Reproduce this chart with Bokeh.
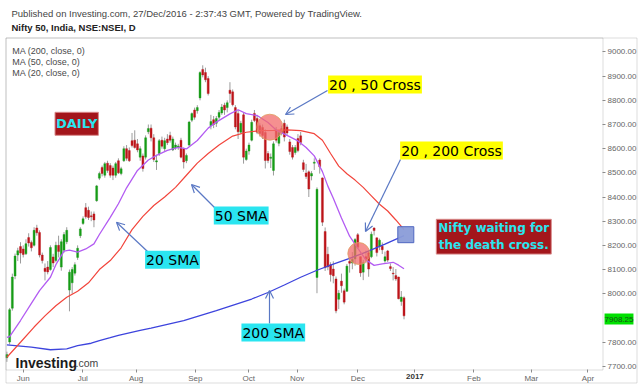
from bokeh.plotting import figure
from bokeh.models import (Range1d, FixedTicker, NumeralTickFormatter, Label, LinearAxis,
                          Arrow, OpenHead, BoxAnnotation)
from bokeh.embed import file_html
from bokeh.resources import INLINE

# ---------------- data (Nifty 50 daily, 24 May 2016 .. 26 Dec 2016) ----------------
trading_days = {
    "2016-05": [24, 25, 26, 27, 30, 31],
    "2016-06": [1, 2, 3, 6, 7, 8, 9, 10, 13, 14, 15, 16, 17, 20, 21, 22, 23, 24, 27, 28, 29, 30],
    "2016-07": [1, 4, 5, 7, 8, 11, 12, 13, 14, 15, 18, 19, 20, 21, 22, 25, 26, 27, 28, 29],
    "2016-08": [1, 2, 3, 4, 5, 8, 9, 10, 11, 12, 16, 17, 18, 19, 22, 23, 24, 25, 26, 29, 30, 31],
    "2016-09": [1, 2, 6, 7, 8, 9, 12, 14, 15, 16, 19, 20, 21, 22, 23, 26, 27, 28, 29, 30],
    "2016-10": [3, 4, 5, 6, 7, 10, 13, 14, 17, 18, 19, 20, 21, 24, 25, 26, 27, 28],
    "2016-11": [1, 2, 3, 4, 7, 8, 9, 10, 11, 15, 16, 17, 18, 21, 22, 23, 24, 25, 28, 29, 30],
    "2016-12": [1, 2, 5, 6, 7, 8, 9, 12, 13, 14, 15, 16, 19, 20, 21, 22, 23, 26],
}
dates = [f"{m}-{d:02d}" for m, days in trading_days.items() for d in days]

opens = [7735, 7800, 7940, 8073, 8160, 8195,
         8185, 8165, 8232, 8212, 8200, 8272, 8253, 8160, 8105, 8110, 8100, 8152, 8137, 8200, 8110, 8180, 8215, 8015, 8045, 8085, 8150, 8240,
         8290, 8356, 8345, 8322, 8330, 8385, 8478, 8522, 8490, 8540, 8530, 8520, 8490, 8550, 8497, 8550, 8600, 8592, 8633, 8635,
         8620, 8565, 8570, 8565, 8670, 8685, 8645, 8545, 8580, 8635, 8600, 8640, 8655, 8595, 8603, 8606, 8635, 8600, 8550, 8615, 8718, 8760,
         8757, 8810, 8928, 8915, 8890, 8695, 8720, 8705, 8730, 8748, 8780, 8770, 8842, 8835, 8770, 8745, 8668, 8740, 8555, 8590,
         8635, 8746, 8725, 8695, 8688, 8667, 8580, 8560, 8510, 8675, 8622, 8683, 8705, 8690, 8628, 8605, 8584, 8642,
         8653, 8542, 8499, 8504, 8487, 8540, 8067, 8553, 8479, 8257, 8163, 8120, 8102, 8061, 7977, 8052, 8012, 8010, 8134, 8127, 8144,
         8244, 8153, 8089, 8153, 8169, 8153, 8272, 8231, 8196, 8196, 8135, 8177, 8112, 8085, 8075, 8069, 7968, 7983]
highs = [7760, 7941, 8083, 8166, 8190, 8213,
         8200, 8225, 8250, 8220, 8275, 8285, 8262, 8170, 8125, 8135, 8200, 8165, 8215, 8240, 8225, 8255, 8275, 8100, 8110, 8130, 8200, 8275,
         8320, 8375, 8360, 8340, 8340, 8450, 8505, 8530, 8545, 8550, 8540, 8530, 8545, 8560, 8525, 8610, 8615, 8605, 8665, 8676,
         8640, 8610, 8580, 8655, 8700, 8700, 8660, 8575, 8640, 8650, 8645, 8660, 8670, 8650, 8625, 8620, 8645, 8605, 8580, 8715, 8750, 8770,
         8780, 8920, 8945, 8935, 8900, 8740, 8735, 8735, 8760, 8785, 8790, 8800, 8875, 8845, 8780, 8760, 8715, 8750, 8600, 8625,
         8720, 8760, 8740, 8705, 8700, 8680, 8590, 8580, 8630, 8690, 8675, 8695, 8720, 8700, 8640, 8615, 8615, 8660,
         8669, 8554, 8537, 8510, 8507, 8560, 8440, 8560, 8481, 8274, 8194, 8130, 8134, 8071, 8015, 8083, 8021, 8123, 8151, 8172, 8230,
         8251, 8154, 8140, 8178, 8180, 8257, 8274, 8232, 8228, 8212, 8174, 8181, 8125, 8110, 8102, 8070, 8011, 7989]
lows = [7718, 7790, 7930, 8060, 8135, 8125,
        8150, 8160, 8195, 8175, 8195, 8240, 8150, 8125, 8055, 8080, 8095, 8110, 8130, 8150, 8095, 8170, 8205, 7927, 8000, 8075, 8140, 8230,
        8285, 8310, 8305, 8300, 8275, 8380, 8470, 8485, 8480, 8500, 8480, 8470, 8480, 8495, 8490, 8545, 8550, 8545, 8605, 8600,
        8585, 8550, 8505, 8555, 8660, 8630, 8545, 8512, 8570, 8600, 8590, 8615, 8625, 8590, 8595, 8595, 8560, 8518, 8540, 8610, 8710, 8720,
        8745, 8800, 8895, 8875, 8820, 8680, 8685, 8690, 8720, 8740, 8740, 8750, 8790, 8775, 8680, 8640, 8660, 8538, 8550, 8575,
        8630, 8710, 8660, 8650, 8640, 8518, 8540, 8520, 8489, 8625, 8610, 8655, 8630, 8655, 8575, 8555, 8575, 8585,
        8614, 8504, 8475, 8400, 8469, 8512, 8002, 8497, 8280, 8094, 8097, 8050, 8043, 7919, 7936, 8004, 7956, 8008, 8087, 8101, 8116,
        8185, 8070, 8056, 8126, 8070, 8147, 8241, 8154, 8180, 8164, 8128, 8131, 8094, 8055, 8053, 7977, 7950, 7894]
closes = [7748, 7934, 8069, 8156, 8178, 8168,
          8162, 8207, 8210, 8190, 8262, 8252, 8160, 8137, 8092, 8090, 8191, 8127, 8200, 8175, 8215, 8245, 8262, 8089, 8100, 8120, 8188, 8268,
          8310, 8318, 8315, 8318, 8305, 8446, 8497, 8497, 8538, 8510, 8490, 8490, 8538, 8500, 8517, 8600, 8560, 8550, 8613, 8605,
          8595, 8600, 8518, 8645, 8683, 8645, 8555, 8550, 8633, 8610, 8633, 8625, 8635, 8640, 8615, 8611, 8565, 8545, 8572, 8710, 8745, 8730,
          8770, 8915, 8905, 8885, 8828, 8712, 8700, 8725, 8750, 8772, 8760, 8790, 8828, 8782, 8690, 8670, 8705, 8565, 8590, 8615,
          8709, 8717, 8668, 8663, 8655, 8551, 8551, 8565, 8620, 8635, 8667, 8665, 8648, 8665, 8588, 8565, 8605, 8592,
          8626, 8514, 8485, 8433, 8497, 8544, 8432, 8525, 8296, 8108, 8111, 8079, 8074, 7929, 8002, 8033, 7965, 8114, 8126, 8142, 8224,
          8192, 8086, 8128, 8143, 8102, 8246, 8261, 8170, 8221, 8182, 8153, 8139, 8104, 8082, 8061, 7979, 7986, 7908.25]

# moving averages (bar index -> value)
ma20_idx = [0, 1, 5, 9, 12, 16, 18, 21, 23, 26, 29, 32, 34, 38, 41, 44, 48, 52, 55, 59, 63, 66, 70, 74, 77, 82, 85,
            88, 92, 96, 99, 103, 107, 110, 113, 116, 118, 120, 123, 126, 129, 132, 135, 138, 142, 144, 146]
ma20_val = [7819, 7822, 7889, 7960, 8013, 8068, 8120, 8176, 8180, 8172, 8185, 8206, 8245, 8316, 8372, 8438, 8510, 8553,
            8572, 8593, 8605, 8599, 8634, 8685, 8710, 8744, 8761, 8745, 8737, 8708, 8677, 8655, 8632, 8605, 8570, 8505,
            8445, 8395, 8313, 8238, 8188, 8140, 8117, 8123, 8130, 8118, 8103]
ma50_idx = [0, 5, 10, 14, 18, 22, 26, 30, 34, 38, 42, 46, 50, 54, 58, 62, 66, 70, 74, 78, 83, 88, 93, 98, 103, 108,
            113, 116, 119, 122, 125, 128, 131, 134, 137, 140, 143, 146]
ma50_val = [7737, 7799, 7862, 7908, 7950, 7985, 8010, 8045, 8100, 8137, 8190, 8265, 8320, 8365, 8400, 8440, 8490, 8540,
            8580, 8615, 8652, 8668, 8675, 8676, 8678, 8675, 8662, 8635, 8580, 8528, 8496, 8470, 8440, 8405, 8370, 8342,
            8305, 8265]
ma200_idx = [0, 4, 9, 16, 22, 26, 31, 34, 38, 41, 49, 53, 65, 77, 90, 96, 102, 108, 114, 120, 126, 132, 139, 146]
ma200_val = [7788, 7784, 7779, 7768, 7772, 7785, 7795, 7806, 7818, 7828, 7848, 7858, 7889, 7930, 7978, 8005, 8036,
             8068, 8097, 8122, 8146, 8172, 8205, 8240]

month_ticks = [6, 27.9, 47.5, 69.3, 88.9, 106.7, 129, 171.7, 192.8, 213.6]
month_labels = ["Jun", "Jul", "Aug", "Sep", "Oct", "Nov", "Dec", "Feb", "Mar", "Apr"]
year_tick, year_label = 150, "2017"
price_ticks = [7700, 7800, 8000, 8100, 8200, 8300, 8400, 8500, 8600, 8700, 8800, 8900, 9000]
last_price = 7908.25

# ---------------- layout (pixel geometry of the TradingView pane) ----------------
W, H = 640, 385
X0, DX = 6.4, 2.72          # pixel of bar 0, pixels per bar
Y0, DY = 365.7, 0.2417      # pixel of 7700, pixels per point


def px(x, y):
    """pixel position of an annotation -> data coordinates"""
    return (x - X0) / DX, 7700 + (Y0 - y) / DY


GREEN, RED, WICK = "#169c16", "#bd1419", "#9b9b9b"
PURPLE, MARED, BLUE = "#b35cf2", "#f2453c", "#3d44dd"
ARROW = "#5a78c4"
CYAN, YELLOW, DARKRED = "#2ae5f0", "#ffff00", "#a3161b"
LINE = "#8c8c8c"
FONT = "Liberation Sans"
VFONT = "DejaVu Sans"

idx = list(range(len(dates)))
colors = [GREEN if c >= o else RED for o, c in zip(opens, closes)]
tops = [max(o, c) for o, c in zip(opens, closes)]
bottoms = [min(o, c) for o, c in zip(opens, closes)]

x_lo, y_lo = px(0, H)
x_hi, y_hi = px(W, 0)
p = figure(width=W, height=H, output_backend="svg", toolbar_location=None,
           x_range=Range1d(x_lo, x_hi), y_range=Range1d(y_lo, y_hi),
           y_axis_location="right", min_border=0, min_border_left=0, min_border_right=0,
           min_border_top=0, min_border_bottom=0,
           outline_line_color=None, background_fill_color="white", border_fill_color="white")
p.xgrid.visible = False
p.ygrid.visible = False

pane_right, pane_bottom = px(602, 369)

# price scale
ya = p.yaxis[0]
ya.fixed_location = pane_right
ya.ticker = FixedTicker(ticks=price_ticks)
ya.formatter = NumeralTickFormatter(format="0.00")
ya.major_label_text_font = FONT
ya.major_label_text_font_size = "8px"
ya.major_label_text_color = "#666666"
ya.major_tick_out = 3
ya.major_tick_in = 0
ya.minor_tick_out = 0
ya.minor_tick_in = 0
ya.major_label_standoff = 2
ya.axis_line_color = None
ya.major_tick_line_color = LINE

# time scale
xa = p.xaxis[0]
xa.fixed_location = pane_bottom
xa.ticker = FixedTicker(ticks=month_ticks)
xa.major_label_overrides = {t: l for t, l in zip(month_ticks, month_labels)}
xa2 = LinearAxis(fixed_location=pane_bottom, ticker=FixedTicker(ticks=[year_tick]),
                 major_label_overrides={year_tick: year_label})
p.add_layout(xa2, "below")
for ax, col, style in [(xa, "#666666", "normal"), (xa2, "#333333", "bold")]:
    ax.major_label_text_font = FONT
    ax.major_label_text_font_size = "8px"
    ax.major_label_text_color = col
    ax.major_label_text_font_style = style
    ax.major_tick_out = 3
    ax.major_tick_in = 0
    ax.minor_tick_out = 0
    ax.minor_tick_in = 0
    ax.major_label_standoff = 1
    ax.axis_line_color = None
    ax.major_tick_line_color = LINE

# pane border and outer border
l, t = px(5.5, 37.5)
r, b = px(602.5, 369.5)
r2, b2 = px(636.5, 382.5)
for rr, bb in [(r, b), (r2, b2)]:
    p.add_layout(BoxAnnotation(left=l, right=rr, top=t, bottom=bb, fill_color=None,
                               line_color=LINE, line_width=1))

# candles
p.segment(x0=idx, y0=lows, x1=idx, y1=highs, line_color=WICK, line_width=1)
p.vbar(x=idx, width=0.72, top=tops, bottom=bottoms, fill_color=colors, line_color=colors, line_width=0.4)

# moving averages
p.line(ma200_idx, ma200_val, line_color=BLUE, line_width=1.3)
p.line(ma50_idx, ma50_val, line_color=MARED, line_width=1.2)
p.line(ma20_idx, ma20_val, line_color=PURPLE, line_width=1.3)

# cross markers
for (cx, cy), sz in [((269.3, 126.7), 26), ((358.3, 253.0), 22)]:
    mx, my = px(cx, cy)
    p.scatter([mx], [my], size=sz, fill_color="#f26b6b", fill_alpha=0.75,
              line_color="#e0a060", line_alpha=0.8)
sx_, sy_ = px(405.3, 234.2)
p.scatter([sx_], [sy_], marker="square", size=16, fill_color="#8a9cd8", fill_alpha=0.95,
          line_color="#4f67c0")

# arrows
for a, bpt in [((327, 90), (285, 114)), ((400, 159), (365, 231)), ((214, 207), (191, 184)),
               ((147, 251), (116, 221.7)), ((269, 323), (269, 290))]:
    xs, ys = px(*a)
    xe, ye = px(*bpt)
    p.add_layout(Arrow(end=OpenHead(size=8, line_color=ARROW, line_width=1.2),
                       x_start=xs, y_start=ys, x_end=xe, y_end=ye,
                       line_color=ARROW, line_width=1.2))


def box(cx, cy, text, bg, fg, size="14px", bold=False, pad=1, border=None, font=VFONT):
    x, y = px(cx, cy)
    p.add_layout(Label(x=x, y=y, text=text, text_font=font, text_font_size=size,
                       text_font_style="bold" if bold else "normal", text_color=fg,
                       text_align="center", text_baseline="middle",
                       background_fill_color=bg, border_line_color=border, padding=pad))


box(76.2, 123.3, "DAILY", DARKRED, CYAN, size="13px", bold=True, pad=(1, 4), border="#d98a8a")
box(374.5, 84, "20 , 50 Cross", YELLOW, "black")
box(451, 150, "20 , 200 Cross", YELLOW, "black")
box(240.7, 215, "50 SMA", CYAN, "black")
box(172, 259.3, "20 SMA", CYAN, "black")
box(272.8, 332, "200 SMA", CYAN, "black")
box(493.3, 236.2, "Nifty waiting for\nthe death cross.", DARKRED, CYAN, size="12px", bold=True,
    pad=2, border="#d98a8a")
box(618.5, 318.5, f"{last_price:.2f}", "#00e000", "#174d17", size="8px", pad=(0, 3), font=FONT)


def text(x, y, s, size, color, style="normal", baseline="middle"):
    p.add_layout(Label(x=x, y=H - y, x_units="screen", y_units="screen", text=s,
                       text_font=FONT, text_font_size=size, text_font_style=style,
                       text_color=color, text_baseline=baseline))


# header
text(11, 12.7, "Published on Investing.com, 27/Dec/2016 - 2:37:43 GMT, Powered by TradingView.",
     "9.5px", "#444444")
text(11, 27.3, "Nifty 50, India, NSE:NSEI, D", "9.5px", "#222222", style="bold")
# MA legend
for yy, s in [(50, "MA (200, close, 0)"), (61, "MA (50, close, 0)"), (72, "MA (20, close, 0)")]:
    text(11.7, yy, s, "9px", "#4a4a4a")
# logo
text(15, 362.5, "Investing", "14px", "#1c1c1c", style="bold", baseline="alphabetic")
text(75, 362.5, ".com", "10.5px", "#444444", baseline="alphabetic")

open("out.html", "w").write(file_html(p, INLINE))
